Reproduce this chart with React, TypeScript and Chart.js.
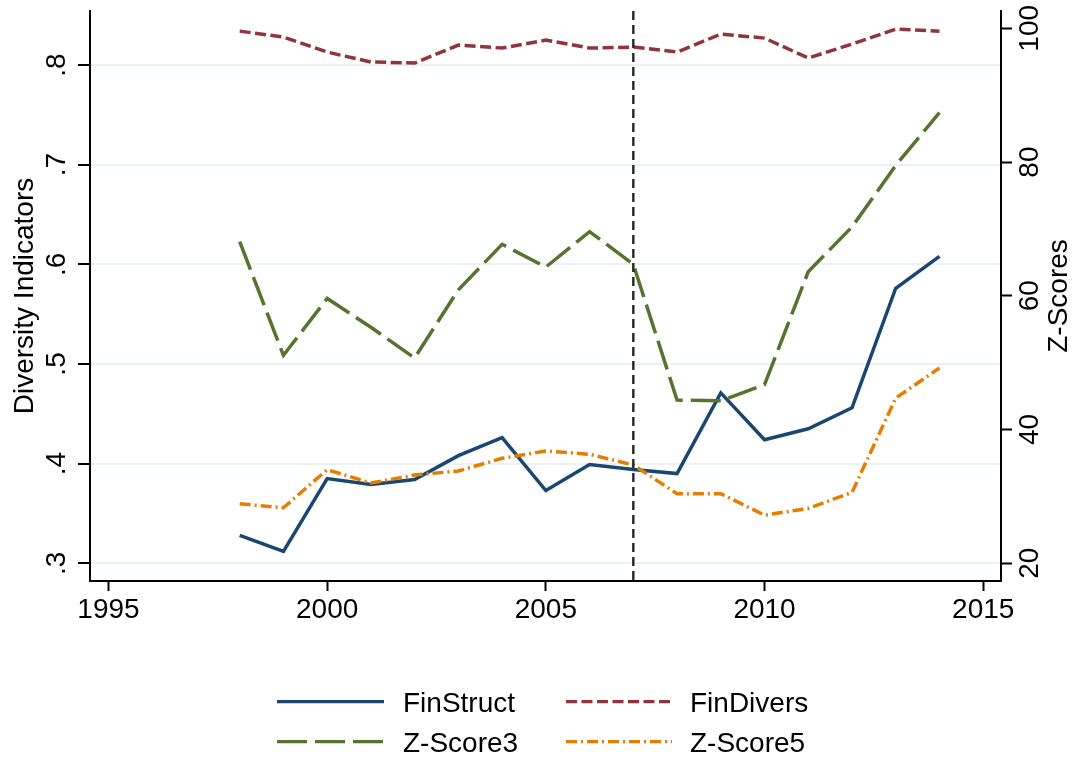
import React, { useEffect, useRef } from 'react';
import { Chart, registerables } from 'chart.js';

Chart.register(...registerables);

// ---------- Data ----------
const YEARS = [1998, 1999, 2000, 2001, 2002, 2003, 2004, 2005, 2006, 2007, 2008, 2009, 2010, 2011, 2012, 2013, 2014];
const FIN_STRUCT = [0.328, 0.312, 0.385, 0.379, 0.384, 0.408, 0.426, 0.373, 0.399, 0.394, 0.390, 0.471, 0.424, 0.435, 0.456, 0.576, 0.608];
const FIN_DIVERS = [0.834, 0.828, 0.813, 0.803, 0.802, 0.820, 0.817, 0.825, 0.817, 0.818, 0.813, 0.831, 0.827, 0.807, 0.821, 0.836, 0.834];
const Z_SCORE3 = [68.1, 51.1, 59.6, 55.3, 50.7, 60.9, 67.7, 64.3, 69.6, 64.7, 44.4, 44.3, 46.7, 63.6, 70.3, 79.5, 87.4];
const Z_SCORE5 = [28.9, 28.3, 34.0, 32.0, 33.2, 33.8, 35.7, 36.8, 36.3, 34.7, 30.4, 30.4, 27.2, 28.2, 30.6, 44.7, 49.2];

const SERIES_LABELS = ['FinStruct', 'FinDivers', 'Z-Score3', 'Z-Score5'];
const X_TICKS = [1995, 2000, 2005, 2010, 2015];
const X_TICK_LABELS = ['1995', '2000', '2005', '2010', '2015'];
const LEFT_TICKS = [0.3, 0.4, 0.5, 0.6, 0.7, 0.8];
const LEFT_TICK_LABELS = ['.3', '.4', '.5', '.6', '.7', '.8'];
const RIGHT_TICKS = [20, 40, 60, 80, 100];
const RIGHT_TICK_LABELS = ['20', '40', '60', '80', '100'];
const LEFT_TITLE = 'Diversity Indicators';
const RIGHT_TITLE = 'Z-Scores';
const CRISIS_YEAR = 2007;

// ---------- Styling ----------
const FONT = '"Liberation Sans", Arial, Helvetica, sans-serif';
const C_BLUE = '#1a476f';
const C_RED = '#90353b';
const C_GREEN = '#55752f';
const C_ORANGE = '#e37e00';
const GRID = '#eaf2f3';

const toPoints = (ys: number[]) => YEARS.map((x, i) => ({ x, y: ys[i] }));

const labelsPlugin = {
  id: 'stataLabels',
  afterDatasetsDraw(chart: any) {
    const ctx = chart.ctx as CanvasRenderingContext2D;
    const { x } = chart.scales;
    const area = chart.chartArea;

    ctx.save();
    const cx = x.getPixelForValue(CRISIS_YEAR);
    ctx.strokeStyle = '#262626';
    ctx.lineWidth = 2.4;
    ctx.setLineDash([9, 5]);
    ctx.beginPath();
    ctx.moveTo(cx, area.top);
    ctx.lineTo(cx, area.bottom);
    ctx.stroke();
    ctx.restore();
  },
  afterDraw(chart: any) {
    const ctx = chart.ctx as CanvasRenderingContext2D;
    const { x, y, y1 } = chart.scales;
    const area = chart.chartArea;
    ctx.save();
    ctx.fillStyle = '#000';
    ctx.font = `28px ${FONT}`;

    ctx.textAlign = 'center';
    ctx.textBaseline = 'alphabetic';
    X_TICKS.forEach((v, i) => {
      ctx.fillText(X_TICK_LABELS[i], x.getPixelForValue(v), 618);
    });

    const rotText = (t: string, px: number, py: number) => {
      ctx.save();
      ctx.translate(px, py);
      ctx.rotate(-Math.PI / 2);
      ctx.textAlign = 'center';
      ctx.textBaseline = 'alphabetic';
      ctx.fillText(t, 0, 0);
      ctx.restore();
    };

    LEFT_TICKS.forEach((v, i) => rotText(LEFT_TICK_LABELS[i], 65, y.getPixelForValue(v)));
    RIGHT_TICKS.forEach((v, i) => rotText(RIGHT_TICK_LABELS[i], 1038, y1.getPixelForValue(v)));

    const midY = (area.top + area.bottom) / 2;
    rotText(LEFT_TITLE, 33, midY);
    rotText(RIGHT_TITLE, 1067, midY);

    const cols = [
      { x0: 277, x1: 384, tx: 403 },
      { x0: 566, x1: 672, tx: 690 },
    ];
    const rows = [701.7, 741.7];
    chart.data.datasets.forEach((ds: any, i: number) => {
      const c = cols[i % 2];
      const ry = rows[Math.floor(i / 2)];
      ctx.save();
      ctx.strokeStyle = ds.borderColor;
      ctx.lineWidth = 3.2;
      ctx.setLineDash(ds.borderDash || []);
      ctx.beginPath();
      ctx.moveTo(c.x0, ry);
      ctx.lineTo(c.x1, ry);
      ctx.stroke();
      ctx.restore();
      ctx.textAlign = 'left';
      ctx.textBaseline = 'alphabetic';
      ctx.fillText(ds.label, c.tx, ry + 10);
    });
    ctx.restore();
  },
};

export default function App() {
  const ref = useRef<HTMLCanvasElement | null>(null);

  useEffect(() => {
    if (!ref.current) return;
    const chart = new Chart(ref.current, {
      type: 'line',
      data: {
        datasets: [
          {
            label: SERIES_LABELS[0],
            data: toPoints(FIN_STRUCT),
            yAxisID: 'y',
            borderColor: C_BLUE,
            borderWidth: 3.5,
            borderDash: [],
            pointRadius: 0,
            tension: 0,
            order: 4,
          },
          {
            label: SERIES_LABELS[1],
            data: toPoints(FIN_DIVERS),
            yAxisID: 'y',
            borderColor: C_RED,
            borderWidth: 3.5,
            borderDash: [11, 4.5],
            pointRadius: 0,
            tension: 0,
            order: 3,
          },
          {
            label: SERIES_LABELS[2],
            data: toPoints(Z_SCORE3),
            yAxisID: 'y1',
            borderColor: C_GREEN,
            borderWidth: 3.5,
            borderDash: [30, 8],
            pointRadius: 0,
            tension: 0,
            order: 2,
          },
          {
            label: SERIES_LABELS[3],
            data: toPoints(Z_SCORE5),
            yAxisID: 'y1',
            borderColor: C_ORANGE,
            borderWidth: 3.5,
            borderDash: [11, 4, 2, 4],
            pointRadius: 0,
            tension: 0,
            order: 1,
          },
        ],
      },
      options: {
        responsive: false,
        animation: false,
        devicePixelRatio: 1,
        layout: { padding: { top: 11, bottom: 117, left: 0, right: 0 } },
        plugins: { legend: { display: false }, tooltip: { enabled: false } },
        scales: {
          x: {
            type: 'linear',
            position: 'bottom',
            min: 1994.577,
            max: 2015.407,
            afterBuildTicks: (s: any) => {
              s.ticks = X_TICKS.map((v) => ({ value: v }));
            },
            afterFit: (s: any) => {
              s.height = 60;
            },
            ticks: { display: false },
            grid: { drawOnChartArea: false, drawTicks: true, tickLength: 10, tickColor: '#000', tickWidth: 2 },
            border: { color: '#000', width: 2 },
          },
          y: {
            type: 'linear',
            position: 'left',
            min: 0.2822,
            max: 0.8542,
            afterBuildTicks: (s: any) => {
              s.ticks = LEFT_TICKS.map((v) => ({ value: v }));
            },
            afterFit: (s: any) => {
              s.width = 90;
            },
            ticks: { display: false },
            grid: { color: GRID, lineWidth: 2, drawTicks: true, tickLength: 12, tickColor: '#000', tickWidth: 2 },
            border: { color: '#000', width: 2 },
          },
          y1: {
            type: 'linear',
            position: 'right',
            min: 17.35,
            max: 102.59,
            afterBuildTicks: (s: any) => {
              s.ticks = RIGHT_TICKS.map((v) => ({ value: v }));
            },
            afterFit: (s: any) => {
              s.width = 74;
            },
            ticks: { display: false },
            grid: { drawOnChartArea: false, drawTicks: true, tickLength: 11, tickColor: '#000', tickWidth: 2 },
            border: { color: '#000', width: 2 },
          },
        },
      } as any,
      plugins: [labelsPlugin],
    });
    return () => chart.destroy();
  }, []);

  return (
    <div style={{ position: 'fixed', left: 0, top: 0, width: 1075, height: 758, background: '#fff' }}>
      <canvas ref={ref} width={1075} height={758} style={{ width: 1075, height: 758, display: 'block' }} />
    </div>
  );
}
